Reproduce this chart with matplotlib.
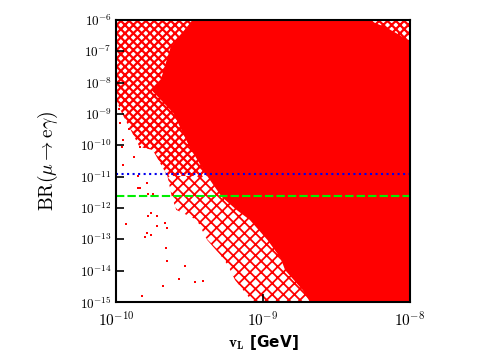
import numpy as np
import matplotlib
matplotlib.use("Agg")
import matplotlib.pyplot as plt
from matplotlib.ticker import FixedLocator, FixedFormatter

plt.rcParams['mathtext.fontset'] = 'cm'
plt.rcParams['font.family'] = ['DejaVu Serif']

# ---- data (log10 values) ----
# left edge of the solid red region, top -> bottom
core_lx = [-9.48, -9.63, -9.70, -9.76, -9.61, -9.50, -9.38, -9.28, -9.18, -9.09,
           -8.97, -8.88, -8.85, -8.73, -8.68]
core_ly = [-6.00, -6.89, -7.98, -8.23, -8.97, -10.05, -10.98, -11.65, -12.06, -12.38,
           -13.02, -13.60, -13.98, -14.62, -15.00]
# top-right corner where the scan stops
corner_lx = [-8.00, -8.07, -8.17, -8.29]
corner_ly = [-6.73, -6.48, -6.22, -6.00]

# outer edge of the speckled (half filled) band, upper and lower part
band1_lx = [-10.00, -10.00, -9.96, -9.84, -9.75, -9.65]
band1_ly = [-6.00, -8.55, -8.97, -10.05, -10.15, -10.98]
band2_lx = [-9.65, -9.62, -9.59, -9.45, -9.38, -9.29, -9.24, -9.19, -9.07]
band2_ly = [-10.98, -11.65, -12.06, -12.38, -13.02, -13.50, -13.82, -14.30, -15.00]

# isolated points left of the band
out_lx = [-9.95, -9.96, -9.88, -9.84, -9.78, -9.78, -9.80, -9.72, -9.76,
          -9.93, -9.79, -9.65, -9.66, -9.65, -9.68, -9.82, -9.57, -9.53, -9.46, -9.41, -9.72,
          -9.85, -9.85, -9.79, -9.76, -9.75, -9.67,
          -9.97, -9.95, -9.98, -9.91, -9.84]
out_ly = [-10.62, -10.04, -10.36, -11.35, -11.55, -12.26, -12.93, -12.24, -12.87,
          -12.51, -12.80, -12.64, -13.27, -13.69, -14.49, -14.81, -14.27, -13.86, -14.36, -14.33, -12.58,
          -11.35, -10.97, -11.19, -12.15, -11.56, -12.47,
          -9.30, -9.83, -8.84, -9.49, -10.05]

limit_mega = 1.2e-11
limit_meg = 2.4e-12

xticks = [1e-10, 1e-9, 1e-8]
xtick_labels = [r'$\mathbf{10^{-10}}$', r'$\mathbf{10^{-9}}$', r'$\mathbf{10^{-8}}$']
yticks = [10.0 ** k for k in range(-15, -5)]
ytick_labels = [r'$10^{%d}$' % k for k in range(-15, -5)]

fig = plt.figure(figsize=(5.03, 3.53), dpi=100)
ax = fig.add_axes([0.2306, 0.1445, 0.5845, 0.7989])
ax.set_xscale('log')
ax.set_yscale('log')
ax.set_xlim(1e-10, 1e-8)
ax.set_ylim(1e-15, 1e-6)

# speckled band: denser at the top, sparser lower down
plt.rcParams['hatch.linewidth'] = 1.6
fx = 10.0 ** np.array(band1_lx + [-8.0, -8.0])
fy = 10.0 ** np.array(band1_ly + [-10.98, -6.0])
ax.fill(fx, fy, facecolor='none', edgecolor='red', linewidth=0, hatch='xxxx', zorder=1)
plt.rcParams['hatch.linewidth'] = 1.3
fx = 10.0 ** np.array(band2_lx + [-8.0, -8.0])
fy = 10.0 ** np.array(band2_ly + [-15.0, -10.98])
ax.fill(fx, fy, facecolor='none', edgecolor='red', linewidth=0, hatch='xxx', zorder=1)

# solid region
px = 10.0 ** np.array(core_lx + [-8.0] + corner_lx)
py = 10.0 ** np.array(core_ly + [-15.0] + corner_ly)
ax.fill(px, py, color='red', linewidth=0, zorder=2)

ax.scatter(10.0 ** np.array(out_lx), 10.0 ** np.array(out_ly), marker='s', s=4.5,
           color='red', linewidths=0, zorder=2)

ax.axhline(limit_mega, color='#0000ee', linestyle=':', linewidth=1.5, zorder=3)
ax.axhline(limit_meg, color='#00ee00', dashes=(4, 1.5), linewidth=1.5, zorder=3)

ax.xaxis.set_major_locator(FixedLocator(xticks))
ax.xaxis.set_major_formatter(FixedFormatter(xtick_labels))
ax.yaxis.set_major_locator(FixedLocator(yticks))
ax.yaxis.set_major_formatter(FixedFormatter(ytick_labels))
ax.minorticks_off()
ax.tick_params(direction='in', length=6, width=1.2, top=False, right=False)
ax.tick_params(axis='x', labelsize=11, pad=6)
ax.tick_params(axis='y', labelsize=9.5, pad=3)
for s in ax.spines.values():
    s.set_linewidth(1.5)
    s.set_zorder(5)

ax.set_ylabel(r'$\mathrm{BR}(\mu\rightarrow\mathrm{e}\gamma)$', fontsize=14, labelpad=14)
ax.set_xlabel(r'$\mathbf{v_L}$ [GeV]', fontsize=11, fontweight='bold',
              family='DejaVu Sans', labelpad=3)

fig.savefig('out.png', dpi=100)
